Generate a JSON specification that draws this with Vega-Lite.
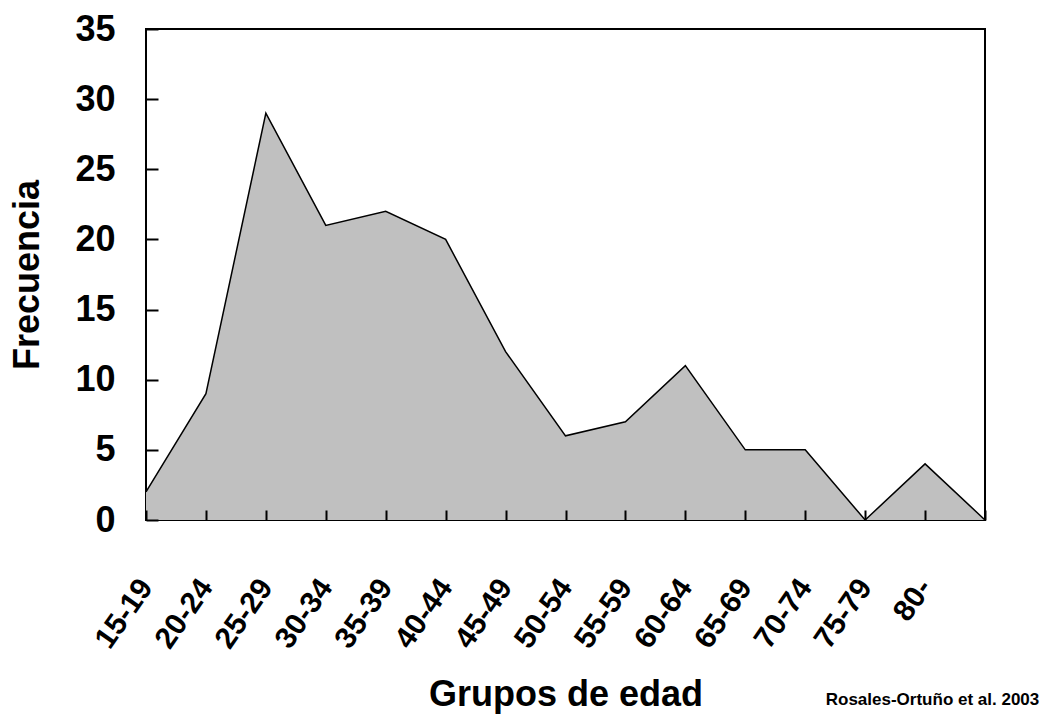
{
  "$schema": "https://vega.github.io/schema/vega-lite/v6.json",
  "width": 839,
  "height": 491,
  "autosize": {"type": "none"},
  "padding": {"left": 146, "top": 29, "right": 60, "bottom": 198},
  "background": "white",
  "title": {
    "text": "Rosales-Ortuño et al. 2003",
    "orient": "bottom",
    "anchor": "end",
    "font": "Liberation Sans",
    "fontWeight": "bold",
    "fontSize": 17,
    "color": "black",
    "offset": 0,
    "dx": 42,
    "dy": -20
  },
  "data": {
    "values": [
      {"grupo": "15-19", "frecuencia": 2},
      {"grupo": "20-24", "frecuencia": 9},
      {"grupo": "25-29", "frecuencia": 29},
      {"grupo": "30-34", "frecuencia": 21},
      {"grupo": "35-39", "frecuencia": 22},
      {"grupo": "40-44", "frecuencia": 20},
      {"grupo": "45-49", "frecuencia": 12},
      {"grupo": "50-54", "frecuencia": 6},
      {"grupo": "55-59", "frecuencia": 7},
      {"grupo": "60-64", "frecuencia": 11},
      {"grupo": "65-69", "frecuencia": 5},
      {"grupo": "70-74", "frecuencia": 5},
      {"grupo": "75-79", "frecuencia": 0},
      {"grupo": "80-", "frecuencia": 4},
      {"grupo": "", "frecuencia": 0}
    ]
  },
  "mark": {
    "type": "area",
    "color": "#c0c0c0",
    "opacity": 1,
    "line": {"color": "black", "strokeWidth": 1.5}
  },
  "encoding": {
    "x": {
      "field": "grupo",
      "type": "ordinal",
      "sort": null,
      "scale": {"type": "point", "padding": 0},
      "axis": {
        "title": "Grupos de edad",
        "titleFontSize": 36,
        "titleY": 195,
        "titleBaseline": "alphabetic",
        "labelAngle": -55,
        "labelAlign": "right",
        "labelBaseline": "middle",
        "labelFontSize": 30,
        "offset": -10,
        "domain": false,
        "ticks": true,
        "tickSize": 10,
        "labelPadding": 62,
        "labelOverlap": false,
        "zindex": 1
      }
    },
    "y": {
      "field": "frecuencia",
      "type": "quantitative",
      "scale": {"domain": [0, 35], "nice": false},
      "axis": {
        "title": "Frecuencia",
        "titleFontSize": 36,
        "titleX": -131,
        "titleBaseline": "middle",
        "titleAlign": "center",
        "values": [0, 5, 10, 15, 20, 25, 30, 35],
        "labelFontSize": 36,
        "offset": -12,
        "domain": false,
        "ticks": true,
        "tickSize": 12,
        "tickColor": "black",
        "tickWidth": 2,
        "labelPadding": 31,
        "grid": false,
        "zindex": 1
      }
    }
  },
  "config": {
    "font": "Liberation Sans",
    "view": {"stroke": "black", "strokeWidth": 2},
    "axis": {
      "domainColor": "black",
      "domainWidth": 2,
      "tickColor": "black",
      "tickWidth": 2,
      "labelColor": "black",
      "titleColor": "black",
      "labelFont": "Liberation Sans",
      "titleFont": "Liberation Sans",
      "labelFontWeight": "bold",
      "titleFontWeight": "bold"
    }
  }
}
